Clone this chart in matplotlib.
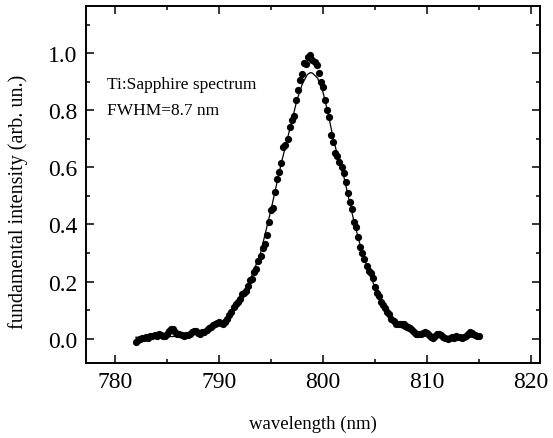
import numpy as np
import matplotlib
matplotlib.use("Agg")
import matplotlib.pyplot as plt
from matplotlib.ticker import MultipleLocator

plt.rcParams["font.family"] = ["Liberation Serif", "DejaVu Serif"]

# measured spectrum, 0.2 nm steps starting at 782.0 nm (one row = 1 nm)
WL_START, WL_STEP = 782.0, 0.2
intensity = [
    -0.010, -0.005, 0.000, 0.002, 0.004,
    0.006, 0.003, 0.008, 0.010, 0.012,
    0.010, 0.015, 0.012, 0.008, 0.010,
    0.018, 0.028, 0.035, 0.033, 0.025,
    0.018, 0.015, 0.013, 0.010, 0.012,
    0.014, 0.018, 0.022, 0.026, 0.028,
    0.020, 0.018, 0.022, 0.025, 0.030,
    0.036, 0.042, 0.048, 0.050, 0.056,
    0.060, 0.054, 0.052, 0.058, 0.070,
    0.082, 0.095, 0.110, 0.122, 0.130,
    0.140, 0.155, 0.160, 0.168, 0.185,
    0.205, 0.210, 0.232, 0.245, 0.272,
    0.290, 0.318, 0.330, 0.362, 0.410,
    0.452, 0.456, 0.515, 0.558, 0.585,
    0.615, 0.672, 0.680, 0.700, 0.740,
    0.765, 0.780, 0.835, 0.870, 0.905,
    0.928, 0.965, 0.962, 0.985, 0.995,
    0.975, 0.968, 0.960, 0.930, 0.900,
    0.880, 0.835, 0.800, 0.775, 0.712,
    0.690, 0.650, 0.640, 0.618, 0.600,
    0.580, 0.548, 0.510, 0.480, 0.455,
    0.410, 0.392, 0.355, 0.320, 0.300,
    0.278, 0.256, 0.238, 0.230, 0.212,
    0.180, 0.160, 0.148, 0.130, 0.118,
    0.108, 0.095, 0.085, 0.070, 0.062,
    0.052, 0.050, 0.052, 0.053, 0.050,
    0.045, 0.040, 0.036, 0.030, 0.022,
    0.018, 0.015, 0.018, 0.020, 0.022,
    0.020, 0.012, 0.006, 0.004, 0.010,
    0.015, 0.017, 0.012, 0.005, 0.002,
    0.000, 0.004, 0.006, 0.004, 0.008,
    0.006, 0.005, 0.004, 0.006, 0.010,
    0.018, 0.024, 0.020, 0.012, 0.008,
    0.008,
]
wavelength = WL_START + WL_STEP * np.arange(len(intensity))

# fitted curve
fit_wl = [782, 784, 786, 788, 789, 790, 791, 792, 793, 794, 795, 796,
          797, 797.5, 798, 798.5, 798.8, 799, 799.5, 800, 800.5, 801,
          801.5, 802, 802.5, 803, 803.5, 804, 804.5, 805, 805.5, 806,
          806.5, 807, 807.5, 808, 809, 810, 812, 815]
fit_val = [0.005, 0.006, 0.008, 0.018, 0.030, 0.050, 0.085, 0.140, 0.205,
           0.300, 0.450, 0.615, 0.760, 0.835, 0.890, 0.925, 0.932, 0.930,
           0.912, 0.865, 0.790, 0.700, 0.630, 0.570, 0.490, 0.410, 0.340,
           0.280, 0.230, 0.180, 0.140, 0.105, 0.075, 0.055, 0.040, 0.030,
           0.015, 0.010, 0.006, 0.005]

fig = plt.figure(figsize=(5.53, 4.39), dpi=100)
ax = fig.add_axes([0.1555, 0.171, 0.821, 0.813])

ax.plot(fit_wl, fit_val, color="black", lw=0.9, zorder=2)
ax.plot(wavelength, intensity, "o", color="black", ms=5.2, mew=0, zorder=3)

ax.set_xlim(777.2, 820.9)
ax.set_ylim(-0.085, 1.165)
ax.xaxis.set_major_locator(MultipleLocator(10))
ax.xaxis.set_minor_locator(MultipleLocator(5))
ax.yaxis.set_major_locator(MultipleLocator(0.2))
ax.yaxis.set_minor_locator(MultipleLocator(0.1))
ax.yaxis.set_major_formatter(matplotlib.ticker.FormatStrFormatter("%.1f"))

ax.tick_params(which="both", direction="in", top=True, right=True, width=1.1)
ax.tick_params(which="major", length=6, labelsize=17)
ax.tick_params(which="minor", length=3)
ax.tick_params(axis="x", pad=5.5)
ax.tick_params(axis="y", pad=6)
for s in ax.spines.values():
    s.set_linewidth(1.4)

ax.set_xlabel("wavelength (nm)", fontsize=13.5, labelpad=16.5)
ax.set_ylabel("fundamental intensity (arb. un.)", fontsize=14.5)
ax.yaxis.set_label_coords(-0.128, 0.454)

ax.text(0.046, 0.782, "Ti:Sapphire spectrum", transform=ax.transAxes,
        fontsize=12.5, ha="left", va="center")
ax.text(0.046, 0.709, "FWHM=8.7 nm", transform=ax.transAxes,
        fontsize=12.5, ha="left", va="center")

fig.savefig("out.png", dpi=100)
